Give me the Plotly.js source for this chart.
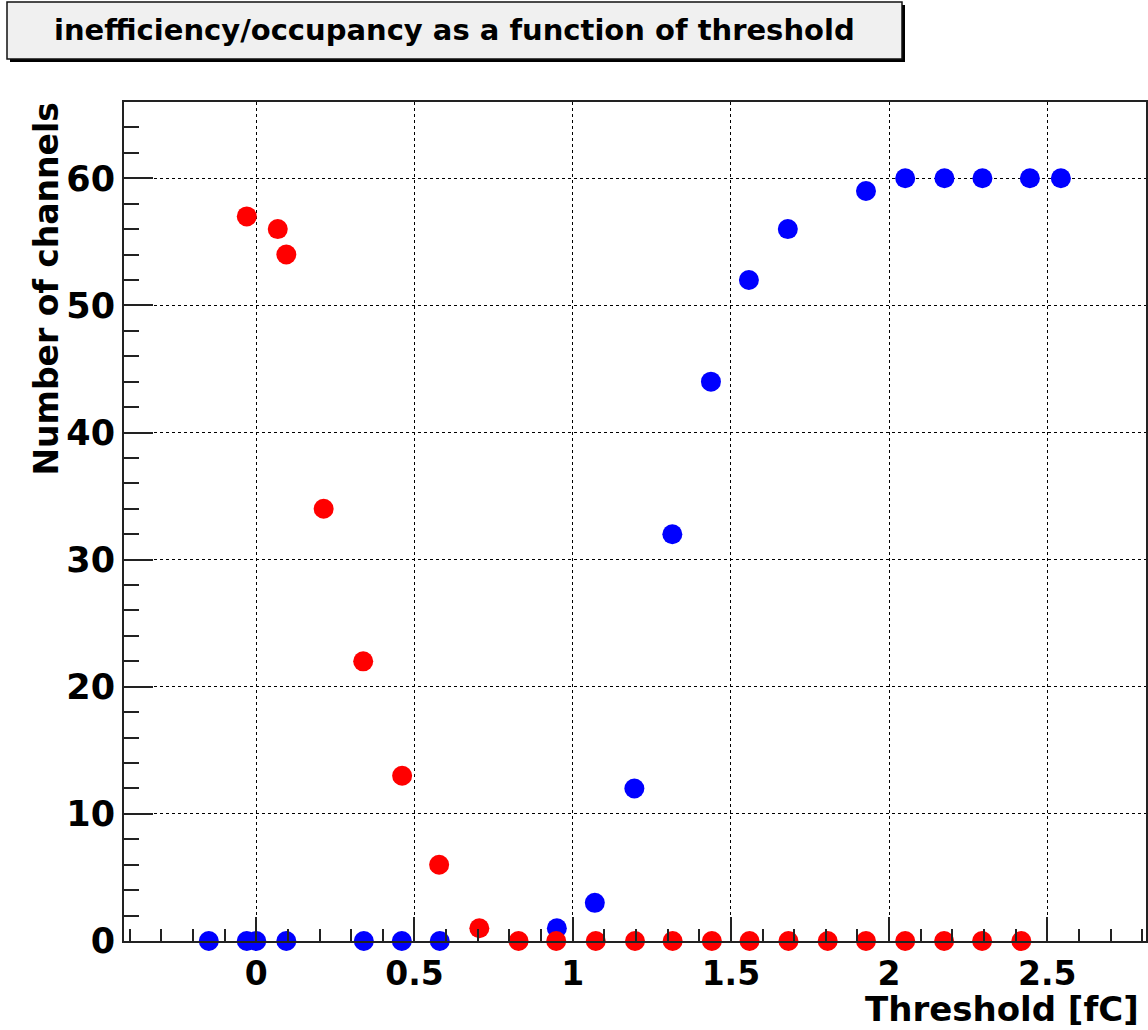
<!DOCTYPE html>
<html>
<head>
<meta charset="utf-8">
<script src="https://cdn.plot.ly/plotly-3.0.1.min.js"></script>
<style>
  html, body { margin: 0; padding: 0; background: #ffffff; }
  #chart { width: 1148px; height: 1030px; }
</style>
</head>
<body>
<div id="chart"></div>
<script>
// ---- data ----
const chartTitle = "inefficiency/occupancy as a function of threshold";
const xTitle = "Threshold [fC]";
const yTitle = "Number of channels";

// occupancy series (blue)
const blueX = [-0.15, -0.03, 0.0, 0.095, 0.34, 0.46, 0.58, 0.95, 1.07, 1.195, 1.315, 1.437, 1.557, 1.68, 1.927, 2.051, 2.175, 2.295, 2.445, 2.543];
const blueY = [0, 0, 0, 0, 0, 0, 0, 1, 3, 12, 32, 44, 52, 56, 59, 60, 60, 60, 60, 60];

// inefficiency series (red)
const redX = [-0.03, 0.068, 0.095, 0.213, 0.338, 0.461, 0.578, 0.705, 0.829, 0.948, 1.073, 1.197, 1.316, 1.44, 1.559, 1.682, 1.806, 1.927, 2.051, 2.174, 2.294, 2.418];
const redY = [57, 56, 54, 34, 22, 13, 6, 1, 0, 0, 0, 0, 0, 0, 0, 0, 0, 0, 0, 0, 0, 0];

const xTickVals = [0, 0.5, 1, 1.5, 2, 2.5];
const xTickText = ["0", "0.5", "1", "1.5", "2", "2.5"];
const yTickVals = [0, 10, 20, 30, 40, 50, 60];
const yTickText = ["0", "10", "20", "30", "40", "50", "60"];

// ---- layout geometry (pixels) ----
const FIG_W = 1148, FIG_H = 1030;
const PL = 124, PR = 1146, PT = 102, PB = 941;
const PW = PR - PL, PH = PB - PT;
const px2x = p => (p - PL) / PW;
const py2y = p => (PB - p) / PH;

const FONT = "DejaVu Sans, Liberation Sans, Arial, sans-serif";
const AX = "#222222";
const XRANGE = [-0.418, 2.812];

const traces = [
  {
    type: "scatter", mode: "markers", x: blueX, y: blueY, name: "occupancy",
    xaxis: "x", yaxis: "y",
    marker: { color: "#0000ff", size: 20, line: { width: 0 } },
    cliponaxis: false, hoverinfo: "x+y"
  },
  {
    type: "scatter", mode: "markers", x: redX, y: redY, name: "inefficiency",
    xaxis: "x2", yaxis: "y",
    marker: { color: "#ff0000", size: 20, line: { width: 0 } },
    cliponaxis: false, hoverinfo: "x+y"
  }
];

const layout = {
  width: FIG_W, height: FIG_H,
  margin: { l: PL, r: FIG_W - PR, t: PT, b: FIG_H - PB, pad: 0 },
  paper_bgcolor: "#ffffff", plot_bgcolor: "#ffffff",
  showlegend: false,
  font: { family: FONT, color: "#000000" },
  // primary x axis: labels, grid and frame
  xaxis: {
    range: XRANGE,
    tickvals: xTickVals, ticktext: xTickText,
    ticks: "outside", ticklen: 2, tickwidth: 1, tickcolor: "rgba(0,0,0,0)",
    showgrid: true, gridcolor: "#000000", griddash: "dot", gridwidth: 1,
    zeroline: false,
    showline: true, linecolor: AX, linewidth: 2, mirror: true,
    tickfont: { family: FONT, size: 33, weight: 700, color: "#000000" }
  },
  // overlay x axis: the inside tick marks
  xaxis2: {
    overlaying: "x", matches: "x", anchor: "y", side: "bottom",
    range: XRANGE,
    tickvals: xTickVals,
    ticks: "inside", ticklen: 24, tickwidth: 2, tickcolor: AX,
    minor: { ticks: "inside", ticklen: 12, tickwidth: 2, tickcolor: AX, dtick: 0.1, tick0: 0, showgrid: false },
    showticklabels: false, showgrid: false, zeroline: false, showline: false
  },
  yaxis: {
    range: [0, 66],
    tickvals: yTickVals, ticktext: yTickText,
    ticks: "inside", ticklen: 29, tickwidth: 2, tickcolor: AX,
    minor: { ticks: "inside", ticklen: 15, tickwidth: 2, tickcolor: AX, dtick: 2, tick0: 0, showgrid: false },
    showgrid: true, gridcolor: "#000000", griddash: "dot", gridwidth: 1,
    zeroline: false,
    showline: true, linecolor: AX, linewidth: 2, mirror: true,
    tickfont: { family: FONT, size: 35, weight: 700, color: "#000000" }
  },
  shapes: [
    // title box shadow
    { type: "rect", xref: "paper", yref: "paper", layer: "above",
      x0: px2x(10), x1: px2x(905), y0: py2y(62), y1: py2y(5),
      fillcolor: "#000000", line: { width: 0 } },
    // title box
    { type: "rect", xref: "paper", yref: "paper", layer: "above",
      x0: px2x(7), x1: px2x(902), y0: py2y(59), y1: py2y(2),
      fillcolor: "#f0f0f0", line: { color: "#111111", width: 1.5 } }
  ],
  annotations: [
    { text: chartTitle, xref: "paper", yref: "paper",
      x: px2x(454.5), y: py2y(30), xanchor: "center", yanchor: "middle",
      showarrow: false, font: { family: FONT, size: 29, weight: 700, color: "#000000" } },
    { text: xTitle, xref: "paper", yref: "paper",
      x: px2x(1140), y: py2y(1030), xanchor: "right", yanchor: "bottom", borderpad: 0,
      showarrow: false, font: { family: FONT, size: 34, weight: 700, color: "#000000" } },
    { text: yTitle, xref: "paper", yref: "paper", textangle: -90,
      x: px2x(46), y: py2y(101), xanchor: "center", yanchor: "top",
      showarrow: false, font: { family: FONT, size: 33, weight: 700, color: "#000000" } }
  ]
};

Plotly.newPlot("chart", traces, layout, { displayModeBar: false, staticPlot: true });
</script>
</body>
</html>
